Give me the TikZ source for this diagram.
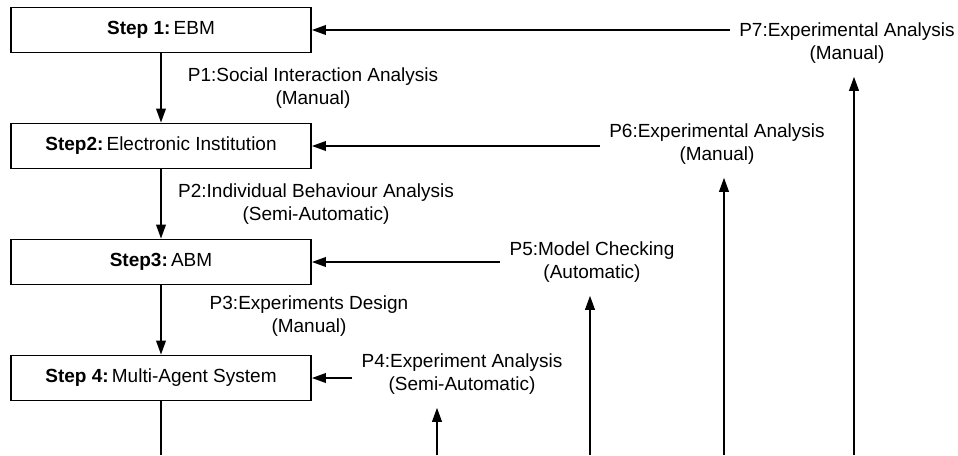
\documentclass[tikz,border=0pt]{standalone}
\usepackage{fontspec}
\setmainfont{Liberation Sans}
\usetikzlibrary{arrows.meta}

\begin{document}
\begin{tikzpicture}[
    x=0.5pt, y=-0.5pt,
    box/.style={draw, line width=0.9pt, minimum width=150pt, minimum height=22.5pt,
                inner sep=0pt, font=\fontsize{9.5}{11.5}\selectfont},
    arr/.style={-{Triangle[length=7pt,width=4.8pt]}, line width=0.9pt},
    lbl/.style={align=center, inner xsep=4.5pt, inner ysep=6.5pt,
                font=\fontsize{9.5}{11.5}\selectfont},
  ]
    \useasboundingbox (0,0) rectangle (958,455);

    % Steps
    \node[box] (step1) at (161, 30) {\textbf{Step 1:}\,EBM};
    \node[box] (step2) at (161,146) {\textbf{Step2:}\,Electronic Institution};
    \node[box] (step3) at (161,262) {\textbf{Step3:}\,ABM};
    \node[box] (step4) at (161,378) {\textbf{Step 4:}\,Multi-Agent System};

    % Processes
    \node[lbl] (p1) at (313, 88) {P1:Social Interaction Analysis\\(Manual)};
    \node[lbl] (p2) at (316,204) {P2:Individual Behaviour Analysis\\(Semi-Automatic)};
    \node[lbl] (p3) at (309,316) {P3:Experiments Design\\(Manual)};
    \node[lbl] (p4) at (462,374) {P4:Experiment Analysis\\(Semi-Automatic)};
    \node[lbl] (p5) at (592,262) {P5:Model Checking\\(Automatic)};
    \node[lbl] (p6) at (717,144) {P6:Experimental Analysis\\(Manual)};
    \node[lbl] (p7) at (847, 43) {P7:Experimental Analysis\\(Manual)};

    % lower ends (cut off at the bottom edge)
    \coordinate (b0) at (161,455);
    \coordinate (b4) at (437,455);
    \coordinate (b5) at (590,455);
    \coordinate (b6) at (724,455);
    \coordinate (b7) at (854,455);

    % Arrows
    \draw[arr] (step1) -- (step2);
    \draw[arr] (step2) -- (step3);
    \draw[arr] (step3) -- (step4);
    \draw[line width=0.9pt] (step4) -- (b0);

    \draw[arr] (p4.west |- step4) -- (step4);
    \draw[arr] (p5.west |- step3) -- (step3);
    \draw[arr] (p6.west |- step2) -- (step2);
    \draw[arr] (p7.west |- step1) -- (step1);

    \draw[arr] (b4) -- (b4 |- p4.south);
    \draw[arr] (b5) -- (b5 |- p5.south);
    \draw[arr] (b6) -- (b6 |- p6.south);
    \draw[arr] (b7) -- (b7 |- p7.south);
  \end{tikzpicture}
\end{document}
